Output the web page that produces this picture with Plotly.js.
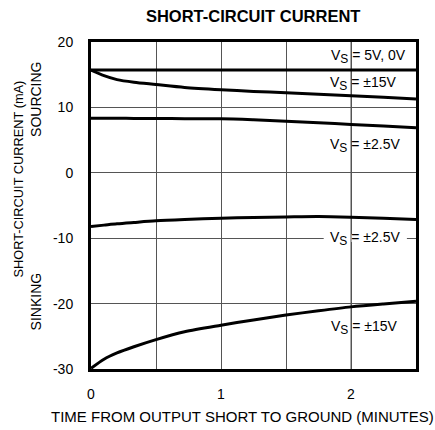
<!DOCTYPE html>
<html>
<head>
<meta charset="utf-8">
<script src="https://cdn.plot.ly/plotly-3.0.1.min.js"></script>
<style>html,body{margin:0;padding:0;background:#fff;}#chart{width:435px;height:430px;}</style>
</head>
<body>
<div id="chart"></div>
<script>
// Time (minutes)
const timeMin = [0, 0.1, 0.2, 0.33, 0.5, 0.72, 1, 1.25, 1.5, 1.75, 2, 2.25, 2.5];
// Short-circuit current (mA)
const src5V0V = [15.7, 15.7, 15.7, 15.7, 15.7, 15.7, 15.7, 15.7, 15.7, 15.7, 15.7, 15.7, 15.7];
const src15V  = [15.7, 14.85, 14.25, 13.85, 13.5, 13.05, 12.7, 12.45, 12.25, 12.0, 11.8, 11.55, 11.3];
const src2p5V = [8.35, 8.34, 8.33, 8.32, 8.3, 8.28, 8.25, 8.1, 7.9, 7.65, 7.4, 7.15, 6.9];
const snk2p5V = [-8.2, -8.0, -7.8, -7.6, -7.35, -7.15, -6.95, -6.82, -6.75, -6.7, -6.8, -6.95, -7.15];
const snk15V  = [-29.9, -28.5, -27.55, -26.6, -25.5, -24.3, -23.3, -22.5, -21.75, -21.1, -20.5, -20.05, -19.65];

const xTickVals = [0, 1, 2];
const yTickVals = [20, 10, 0, -10, -20, -30];
const SUB = "V<sub><span style='font-size:12px'>S</span></sub>";
const labels = [
  {text: SUB + " = 5V, 0V", x: 2.44, y: 17.8},
  {text: SUB + " = ±15V",   x: 2.37, y: 13.7},
  {text: SUB + " = ±2.5V",  x: 2.39, y: 4.2},
  {text: SUB + " = ±2.5V",  x: 2.39, y: -10},
  {text: SUB + " = ±15V",   x: 2.38, y: -23.7}
];

const FONT = "'Liberation Sans', Arial, sans-serif";
const GRID = "#555";
const line = {color: "#000", width: 3, shape: "spline", smoothing: 0.8};
const series = [src5V0V, src15V, src2p5V, snk2p5V, snk15V];
const traces = series.map(ys => ({
  x: timeMin, y: ys, type: "scatter", mode: "lines", line: line, hoverinfo: "skip"
}));

const annotations = labels.map(l => ({
  text: l.text, x: l.x, y: l.y, xref: "x", yref: "y",
  xanchor: "right", yanchor: "middle", showarrow: false,
  font: {family: FONT, size: 14, color: "#000"}
}));
annotations.push(
  {text: "SHORT-CIRCUIT CURRENT (mA)", xref: "paper", yref: "paper",
   x: -0.226, y: 0.581, textangle: -90, showarrow: false, xanchor: "center", yanchor: "middle",
   font: {family: FONT, size: 12.8, color: "#000"}},
  {text: "SOURCING", xref: "paper", yref: "paper",
   x: -0.169, y: 0.823, textangle: -90, showarrow: false, xanchor: "center", yanchor: "middle",
   font: {family: FONT, size: 14, color: "#000"}},
  {text: "SINKING", xref: "paper", yref: "paper",
   x: -0.169, y: 0.207, textangle: -90, showarrow: false, xanchor: "center", yanchor: "middle",
   font: {family: FONT, size: 14, color: "#000"}},
  {text: "TIME FROM OUTPUT SHORT TO GROUND (MINUTES)", xref: "paper", yref: "paper",
   x: 0.465, y: -0.144, showarrow: false, xanchor: "center", yanchor: "middle",
   font: {family: FONT, size: 15, color: "#000"}}
);

const layout = {
  width: 435, height: 430,
  margin: {l: 91, r: 19, t: 42, b: 61},
  paper_bgcolor: "#fff", plot_bgcolor: "#fff",
  showlegend: false,
  font: {family: FONT, color: "#000"},
  title: {text: "<b>SHORT-CIRCUIT CURRENT</b>", x: 0.582, xanchor: "center", y: 0.962, yanchor: "middle",
          font: {family: FONT, size: 16.5, color: "#000"}},
  xaxis: {
    range: [0, 2.5], tickvals: xTickVals, ticktext: xTickVals.map(String),
    showgrid: true, gridcolor: GRID, gridwidth: 1,
    minor: {dtick: 0.5, showgrid: true, gridcolor: GRID, gridwidth: 1},
    showline: true, linecolor: "#000", linewidth: 3, mirror: true,
    ticks: "outside", ticklen: 10, tickcolor: "rgba(0,0,0,0)",
    zeroline: false, tickfont: {family: FONT, size: 14}
  },
  yaxis: {
    range: [-30, 20], tickvals: yTickVals, ticktext: yTickVals.map(String),
    showgrid: true, gridcolor: GRID, gridwidth: 1,
    showline: true, linecolor: "#000", linewidth: 3, mirror: true,
    ticks: "outside", ticklen: 12, tickcolor: "rgba(0,0,0,0)",
    zeroline: false, tickfont: {family: FONT, size: 14}
  },
  shapes: [
    {type: "rect", xref: "x", yref: "y", x0: 1.79, x1: 2.43, y0: -10.6, y1: -9.4,
     fillcolor: "#fff", line: {width: 0}, layer: "between"},
    {type: "line", xref: "x", yref: "y", x0: 2, x1: 2, y0: -30, y1: 20,
     line: {color: GRID, width: 1}, layer: "between"}
  ],
  annotations: annotations
};

Plotly.newPlot("chart", traces, layout, {displayModeBar: false, staticPlot: true});
</script>
</body>
</html>
